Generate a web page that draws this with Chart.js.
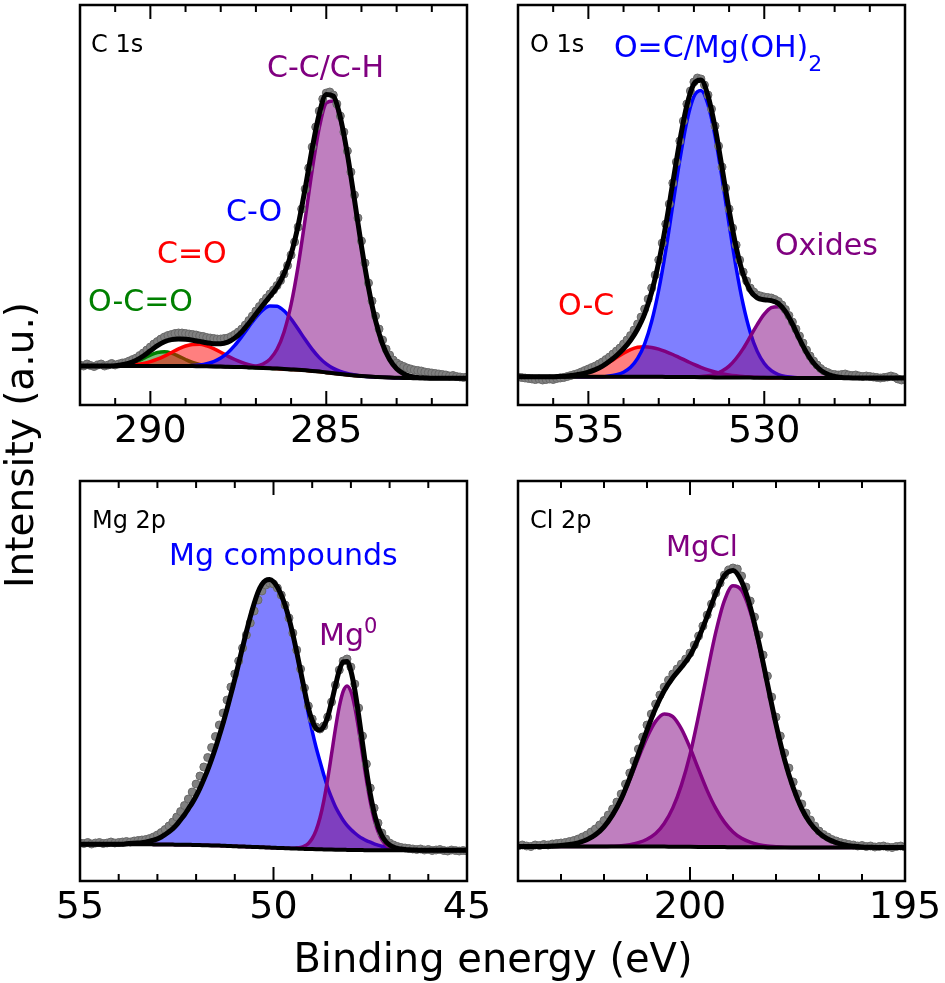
<!DOCTYPE html>
<html>
<head>
<meta charset="utf-8">
<script src="https://cdn.jsdelivr.net/npm/chart.js@4.4.0/dist/chart.umd.min.js"></script>
<style>
  html, body { margin: 0; padding: 0; background: #fff; }
  body { width: 945px; height: 983px; position: relative; overflow: hidden; font-family: 'DejaVu Sans', sans-serif; }
  canvas { position: absolute; }
  .lbl { position: absolute; white-space: nowrap; line-height: 1; font-family: 'DejaVu Sans', sans-serif; }
  .pn { font-size: 24px; color: #000; }
  .pk { font-size: 30px; }
</style>
</head>
<body>
<canvas id="c1" width="477" height="465" style="left:35px;top:0px;width:477px;height:465px"></canvas>
<canvas id="c2" width="477" height="465" style="left:473px;top:0px;width:477px;height:465px"></canvas>
<canvas id="c3" width="477" height="465" style="left:35px;top:476px;width:477px;height:465px"></canvas>
<canvas id="c4" width="477" height="465" style="left:473px;top:476px;width:477px;height:465px"></canvas>

<div class="lbl pn" style="left:91px;top:32px">C 1s</div>
<div class="lbl pk" style="left:267px;top:51.5px;color:#800080">C-C/C-H</div>
<div class="lbl pk" style="left:226px;top:195.5px;color:#0000ff">C-O</div>
<div class="lbl pk" style="left:157px;top:237.5px;color:#ff0000">C=O</div>
<div class="lbl pk" style="left:88px;top:285.5px;color:#008000">O-C=O</div>

<div class="lbl pn" style="left:530px;top:32px">O 1s</div>
<div class="lbl pk" style="left:614px;top:31.5px;color:#0000ff">O=C/Mg(OH)<span style="font-size:22px;position:relative;top:14px">2</span></div>
<div class="lbl pk" style="left:775px;top:229.5px;color:#800080">Oxides</div>
<div class="lbl pk" style="left:558px;top:289.5px;color:#ff0000">O-C</div>

<div class="lbl pn" style="left:92px;top:508px">Mg 2p</div>
<div class="lbl pk" style="left:169px;top:539.5px;color:#0000ff">Mg compounds</div>
<div class="lbl pk" style="left:319px;top:619.5px;color:#800080">Mg<span style="font-size:21px;position:relative;top:-12px">0</span></div>

<div class="lbl pn" style="left:530px;top:508px">Cl 2p</div>
<div class="lbl" style="left:666px;top:532px;font-size:29px;color:#800080">MgCl</div>

<div class="lbl" style="left:193px;top:938px;width:600px;text-align:center;font-size:40px">Binding energy (eV)</div>
<div class="lbl" style="left:-230px;top:425px;width:500px;height:40px;line-height:40px;text-align:center;font-size:39px;transform:rotate(-90deg)">Intensity (a.u.)</div>

<script>
// ---------------- C 1s ----------------
const c1sEnergy = [
292.0,291.9,291.8,291.7,291.6,291.5,291.4,291.3,291.2,291.1,
291.0,290.9,290.8,290.7,290.6,290.5,290.4,290.3,290.2,290.1,
290.0,289.9,289.8,289.7,289.6,289.5,289.4,289.3,289.2,289.1,
289.0,288.9,288.8,288.7,288.6,288.5,288.4,288.3,288.2,288.1,
288.0,287.9,287.8,287.7,287.6,287.5,287.4,287.3,287.2,287.1,
287.0,286.9,286.8,286.7,286.6,286.5,286.4,286.3,286.2,286.1,
286.0,285.9,285.8,285.7,285.6,285.5,285.4,285.3,285.2,285.1,
285.0,284.9,284.8,284.7,284.6,284.5,284.4,284.3,284.2,284.1,
284.0,283.9,283.8,283.7,283.6,283.5,283.4,283.3,283.2,283.1,
283.0,282.9,282.8,282.7,282.6,282.5,282.4,282.3,282.2,282.1,
282.0,281.9,281.8,281.7,281.6,281.5,281.4,281.3,281.2,281.1,
281.0];
const c1sCounts = [
40,39,41,39.5,38.5,40,41,39,40,41.5,
40,41,42,42.5,44,45.5,47,49.5,52,55,
58,61,63.5,66,68,69.5,70.5,71.5,72,72,
71.5,71,70.5,70,69,68.5,67.5,67,66.5,66,
66,66.5,67,68.5,70.5,73,76,80,84.5,89,
94,98.5,103,107,111,115,119.5,124.5,131,139.5,
150,163,178,196,216,237,258,278,294,306,
312,313,310,301,289,273,254,233,210,187,
164,142,122,104,89,76,65,56,50,45,
42,40,38.5,37,36,35,34.5,34,33,32.5,
32,31.5,31,30.5,30,29,29.5,28.5,28,27.5,
28];
// fit curves on every second energy (0.2 eV)
const c1sBackground = [
39,39,39,39,39,39,39,39,39,39,
39,39,39,39,39,39,38.9,38.8,38.7,38.6,
38.5,38.3,38.1,37.9,37.6,37.3,37.0,36.7,36.4,36.0,
35.6,35.2,34.7,34.1,33.4,32.6,31.8,31.0,30.3,29.6,
29.0,28.5,28.1,27.7,27.4,27.2,27.0,26.9,26.8,26.8,
26.8,26.8,26.8,26.8,26.8,26.8];
const c1sOCO = [
0,0,0,0,0,0.3,0.9,2.2,4.4,7.5,
10.9,13.5,14.3,12.9,9.9,6.5,3.6,1.7,0.7,0.2,
0,0,0,0,0,0,0,0,0,0,
0,0,0,0,0,0,0,0,0,0,
0,0,0,0,0,0,0,0,0,0,
0,0,0,0,0,0];
const c1sCdO = [
0,0,0,0,0,0,0.3,0.7,1.4,2.5,
4.3,6.8,9.9,13.5,17.1,20.0,21.7,21.9,20.4,17.7,
14.3,10.6,7.4,4.7,2.8,1.6,0.8,0.4,0,0,
0,0,0,0,0,0,0,0,0,0,
0,0,0,0,0,0,0,0,0,0,
0,0,0,0,0,0];
const c1sCO = [
0,0,0,0,0,0,0,0,0,0,
0,0,0,0,0,0.2,0.6,1.2,2.5,4.8,
8.5,14.0,21.5,30.7,40.7,50.4,58.2,62.4,62.4,58.2,
50.4,40.7,30.7,21.5,14.0,8.5,4.8,2.5,1.2,0.6,
0,0,0,0,0,0,0,0,0,0,
0,0,0,0,0,0];
const c1sCC = [
0,0,0,0,0,0,0,0,0,0,
0,0,0,0,0,0,0,0,0,0,
0,0,0,0,0.6,1.6,4.0,9.2,19.3,37.1,
64.9,103.7,151.1,200.9,243.6,269.5,272.3,254.0,219.4,175.4,
129.8,89.0,56.4,33.1,18.0,9.1,4.2,1.8,0.7,0.3,
0,0,0,0,0,0];
const c1sTicks = [290, 285];
const c1sMinorTicks = [291, 289, 288, 287, 286, 284, 283, 282];

// ---------------- O 1s ----------------
const o1sEnergy = [
537.0,536.9,536.8,536.7,536.6,536.5,536.4,536.3,536.2,536.1,
536.0,535.9,535.8,535.7,535.6,535.5,535.4,535.3,535.2,535.1,
535.0,534.9,534.8,534.7,534.6,534.5,534.4,534.3,534.2,534.1,
534.0,533.9,533.8,533.7,533.6,533.5,533.4,533.3,533.2,533.1,
533.0,532.9,532.8,532.7,532.6,532.5,532.4,532.3,532.2,532.1,
532.0,531.9,531.8,531.7,531.6,531.5,531.4,531.3,531.2,531.1,
531.0,530.9,530.8,530.7,530.6,530.5,530.4,530.3,530.2,530.1,
530.0,529.9,529.8,529.7,529.6,529.5,529.4,529.3,529.2,529.1,
529.0,528.9,528.8,528.7,528.6,528.5,528.4,528.3,528.2,528.1,
528.0,527.9,527.8,527.7,527.6,527.5,527.4,527.3,527.2,527.1,
527.0,526.9,526.8,526.7,526.6,526.5,526.4,526.3,526.2,526.1,
526.0];
const o1sCounts = [
28,27.5,27,26.5,26,25.5,26,25,25.5,26,
25.5,26.5,27,27.5,28.5,29.5,30.5,31.5,33,34.5,
36,37.5,39,41,43,45.5,48,51,54,57,
61,65,69.5,75,81,88,96,106,117,130,
145,162,181,201,222,243,264,284,301,314,
323,327,326,320,310,296,279,259,238,217,
196,177,160,145,133,124,117,113,110,109,
108,107.5,107,105.5,103.5,100,95.5,89.5,83,76,
69,62,55,49,44,40,36.5,34,32.5,31,
30.5,30,30.5,31,30,29.5,30,29,28.5,29,
28.5,28,27.5,27,27.5,28,29,28,26,25,
25.5];
const o1sBackground = [
28.3,28.3,28.3,28.3,28.3,28.3,28.3,28.3,28.3,28.3,
28.3,28.3,28.3,28.3,28.3,28.3,28.3,28.3,28.2,28.2,
28.2,28.1,28.1,28.0,28.0,27.9,27.8,27.7,27.6,27.6,
27.5,27.5,27.4,27.4,27.3,27.3,27.2,27.2,27.1,27.1,
27.0,27.0,27.0,27.0,27.0,27.0,27.0,27.0,27.0,27.0,
27.0,27.0,27.0,27.0,27.0,27.0];
const o1sOC = [
0,0,0,0,0,0,0.4,0.8,1.5,2.7,
4.5,7.1,10.5,14.6,19.1,23.5,27.1,29.4,30.0,29.3,
27.7,25.3,22.4,19.2,15.9,12.7,9.9,7.4,5.4,3.8,
2.6,1.7,1.1,0.7,0.4,0.2,0,0,0,0,
0,0,0,0,0,0,0,0,0,0,
0,0,0,0,0,0];
const o1sOCMgOH = [
0,0,0,0,0,0,0,0,0,0,
0,0,0,0.8,2.0,4.5,9.4,18.3,33.0,55.5,
86.8,126.5,171.8,217.2,255.7,280.5,286.6,272.7,241.6,199.4,
153.3,109.8,73.2,45.4,26.3,14.2,7.1,3.3,1.4,0.6,
0,0,0,0,0,0,0,0,0,0,
0,0,0,0,0,0];
const o1sOxides = [
0,0,0,0,0,0,0,0,0,0,
0,0,0,0,0,0,0,0,0,0,
0,0,0,0,0,0,0.7,1.5,3.3,6.4,
11.4,19.0,29.0,40.9,53.1,63.5,70.1,71.1,65.1,53.3,
39.0,25.6,15.0,7.9,3.7,1.6,0.6,0.2,0,0,
0,0,0,0,0,0];
const o1sTicks = [535, 530];
const o1sMinorTicks = [536, 534, 533, 532, 531, 529, 528, 527];

// ---------------- Mg 2p ----------------
const mg2pEnergy = [
55.0,54.9,54.8,54.7,54.6,54.5,54.4,54.3,54.2,54.1,
54.0,53.9,53.8,53.7,53.6,53.5,53.4,53.3,53.2,53.1,
53.0,52.9,52.8,52.7,52.6,52.5,52.4,52.3,52.2,52.1,
52.0,51.9,51.8,51.7,51.6,51.5,51.4,51.3,51.2,51.1,
51.0,50.9,50.8,50.7,50.6,50.5,50.4,50.3,50.2,50.1,
50.0,49.9,49.8,49.7,49.6,49.5,49.4,49.3,49.2,49.1,
49.0,48.9,48.8,48.7,48.6,48.5,48.4,48.3,48.2,48.1,
48.0,47.9,47.8,47.7,47.6,47.5,47.4,47.3,47.2,47.1,
47.0,46.9,46.8,46.7,46.6,46.5,46.4,46.3,46.2,46.1,
46.0,45.9,45.8,45.7,45.6,45.5,45.4,45.3,45.2,45.1,
45.0];
const mg2pCounts = [
38,37.5,38.5,37,38,38.5,37.5,38,39,38,
38.5,39,39.5,39,40,40.5,41,41.5,42.5,44,
46,48.5,51.5,55,59,64,69.5,75.5,82,89,
97,105,114,123.5,133.5,144.5,156,168,181,194,
207,220,233,246,258,270,281,290,296,298,
297,293,286,276,263,248,231,212,193,175,
162,154,152,155,164,179,196,211,220,222,
214,197,173,145,117,93,73,58,48,42,
38,36,34.5,33.5,33,32.5,32,31.5,32,31,
31.5,30.5,31,31.5,30.5,30,31,30.5,30,30.5,
30];
// fit curves on every energy (0.1 eV)
const mg2pBackground = [
36.8,36.8,36.8,36.8,36.8,36.8,36.8,36.8,36.8,36.8,
36.8,36.8,36.8,36.8,36.8,36.8,36.7,36.7,36.7,36.6,
36.6,36.5,36.5,36.4,36.4,36.3,36.3,36.2,36.2,36.1,
36.0,35.9,35.8,35.7,35.6,35.5,35.4,35.2,35.1,34.9,
34.8,34.6,34.5,34.3,34.2,34.0,33.9,33.7,33.6,33.4,
33.3,33.1,33.0,32.8,32.7,32.5,32.4,32.2,32.1,32.0,
31.9,31.8,31.7,31.6,31.5,31.4,31.3,31.2,31.2,31.1,
31.0,31.0,30.9,30.9,30.8,30.8,30.7,30.7,30.7,30.7,
30.7,30.7,30.7,30.7,30.7,30.7,30.7,30.7,30.7,30.7,
30.7,30.7,30.7,30.7,30.7,30.7,30.7,30.7,30.7,30.7,
30.7];
const mg2pCompounds = [
0,0,0,0,0,0,0,0,0,0,
0,0,0.5,0.7,1.0,1.2,1.5,2.2,3.0,4.2,
5.5,7.5,10,12.8,16,20,25,30,36,42,
49,57,66,75.5,86,97.5,110,123,137,152,
167,183,199,215,230,243.5,255,263,267,268,
266,261,253,243,230,214,196,176.5,156,135.5,
118,102,88,74.5,62,52,43,36,29.5,24.5,
20.5,17,14,11.5,9.5,8,6.5,5.2,4.0,3.2,
2.5,2.0,1.5,1.1,0.8,0.5,0.3,0.2,0,0,
0,0,0,0,0,0,0,0,0,0,
0];
const mg2pMetal = [
0,0,0,0,0,0,0,0,0,0,
0,0,0,0,0,0,0,0,0,0,
0,0,0,0,0,0,0,0,0,0,
0,0,0,0,0,0,0,0,0,0,
0,0,0,0,0,0,0,0,0,0,
0,0,0,0,0,0.2,0.5,1.3,2.8,5.6,
10.6,18.9,31.3,48.6,70.5,95.5,121.0,143.2,158.5,164,
158.5,143.2,121.0,95.5,70.5,48.6,31.3,18.9,10.6,5.6,
2.8,1.3,0.5,0.2,0,0,0,0,0,0,
0,0,0,0,0,0,0,0,0,0,
0];
const mg2pTicks = [55, 50, 45];
const mg2pMinorTicks = [54, 53, 52, 51, 49, 48, 47, 46];

// ---------------- Cl 2p ----------------
const cl2pEnergy = [
204.0,203.9,203.8,203.7,203.6,203.5,203.4,203.3,203.2,203.1,
203.0,202.9,202.8,202.7,202.6,202.5,202.4,202.3,202.2,202.1,
202.0,201.9,201.8,201.7,201.6,201.5,201.4,201.3,201.2,201.1,
201.0,200.9,200.8,200.7,200.6,200.5,200.4,200.3,200.2,200.1,
200.0,199.9,199.8,199.7,199.6,199.5,199.4,199.3,199.2,199.1,
199.0,198.9,198.8,198.7,198.6,198.5,198.4,198.3,198.2,198.1,
198.0,197.9,197.8,197.7,197.6,197.5,197.4,197.3,197.2,197.1,
197.0,196.9,196.8,196.7,196.6,196.5,196.4,196.3,196.2,196.1,
196.0,195.9,195.8,195.7,195.6,195.5,195.4,195.3,195.2,195.1,
195.0];
const cl2pCounts = [
35,36,35,34.5,36,35.5,36.5,36,37,37.5,
38,38.5,39.5,40.5,42,44,46,49,52,56,
60.5,66,72,79,87,97,108,120,132,144,
156,167,177,186,194,201,207,212,217,222,
228,236,245,255,266,277,288,298,306,311,
313,312,305,294,280,264,246,226,205,184,
164,145,128,113,99,87,77,68,61,55,
50,46.5,44,41.5,40,38.5,37.5,36.5,36,35,
35.5,34.5,35,34,34.5,35,34,33.5,34.5,35,
34];
const cl2pBackground = [
34.5,34.5,34.5,34.5,34.5,34.5,34.5,34.5,34.5,34.5,
34.5,34.5,34.5,34.5,34.5,34.5,34.4,34.4,34.3,34.3,
34.2,34.1,34.0,34.0,33.9,33.8,33.8,33.7,33.7,33.6,
33.6,33.5,33.5,33.5,33.5,33.5,33.5,33.5,33.5,33.5,
33.5,33.5,33.5,33.5,33.5,33.5];
const cl2pHalf = [
0,0,0,0.1,0.4,0.9,2.0,3.7,6.7,11.7,
19.7,31.3,46.8,66.8,88.4,109.1,125.2,132.7,130.1,117.8,
99.1,77.5,56.4,38.6,25.0,15.3,8.9,5.1,2.7,1.3,
0.7,0.3,0.1,0,0,0,0,0,0,0,
0,0,0,0,0,0];
const cl2pThreeHalf = [
0,0,0,0,0,0,0,0,0,0,
0,0.3,0.8,1.9,3.9,7.3,13.1,23.1,38.8,61.6,
92.2,131.5,174.2,214.8,246.5,261.5,256.9,235.6,202.4,162.5,
122.4,87.4,59.7,38.7,24.1,14.7,8.5,4.9,2.6,1.3,
0.6,0.3,0.1,0,0,0];
const cl2pTicks = [200, 195];
const cl2pMinorTicks = [203, 202, 201, 199, 198, 197, 196];

// ---------------- styles ----------------
const COL = { purple: '#800080', blue: '#0000ff', red: '#ff0000', green: '#008000' };
const FILL = {
  purple: 'rgba(128,0,128,0.5)', blue: 'rgba(0,0,255,0.5)',
  red: 'rgba(255,0,0,0.5)', green: 'rgba(0,128,0,0.5)'
};

const panels = [
  { id: 'c1', energy: c1sEnergy, counts: c1sCounts, stride: 2, background: c1sBackground,
    min: 281, max: 292, major: c1sTicks, minor: c1sMinorTicks,
    components: [
      { values: c1sOCO, c: 'green' }, { values: c1sCdO, c: 'red' },
      { values: c1sCO, c: 'blue' }, { values: c1sCC, c: 'purple' } ] },
  { id: 'c2', energy: o1sEnergy, counts: o1sCounts, stride: 2, background: o1sBackground,
    min: 526, max: 537, major: o1sTicks, minor: o1sMinorTicks,
    components: [
      { values: o1sOC, c: 'red' }, { values: o1sOCMgOH, c: 'blue' }, { values: o1sOxides, c: 'purple' } ] },
  { id: 'c3', energy: mg2pEnergy, counts: mg2pCounts, stride: 1, background: mg2pBackground,
    min: 45, max: 55, major: mg2pTicks, minor: mg2pMinorTicks,
    components: [ { values: mg2pCompounds, c: 'blue' }, { values: mg2pMetal, c: 'purple' } ] },
  { id: 'c4', energy: cl2pEnergy, counts: cl2pCounts, stride: 2, background: cl2pBackground,
    min: 195, max: 204, major: cl2pTicks, minor: cl2pMinorTicks,
    components: [ { values: cl2pHalf, c: 'purple' }, { values: cl2pThreeHalf, c: 'purple' } ] }
];

const framePlugin = {
  id: 'frameTicks',
  afterDatasetsDraw(chart, args, opts) {
    const { ctx, chartArea: a } = chart;
    const x = chart.scales.x;
    ctx.save();
    ctx.strokeStyle = '#000';
    ctx.lineWidth = 2;
    const tick = (v, len) => {
      const px = x.getPixelForValue(v);
      ctx.beginPath();
      ctx.moveTo(px, a.bottom); ctx.lineTo(px, a.bottom - len);
      ctx.moveTo(px, a.top); ctx.lineTo(px, a.top + len);
      ctx.stroke();
    };
    (opts.minor || []).forEach(v => tick(v, 7));
    (opts.major || []).forEach(v => tick(v, 14));
    ctx.lineWidth = 2.5;
    ctx.strokeRect(a.left, a.top, a.right - a.left, a.bottom - a.top);
    ctx.restore();
  }
};

panels.forEach(p => {
  const fitE = p.energy.filter((_, i) => i % p.stride === 0);
  const pts = ys => ys.map((y, i) => ({ x: fitE[i], y }));
  const envelope = p.background.map((b, i) => p.components.reduce((s, c) => s + c.values[i], b));
  const datasets = [];
  datasets.push({
    label: 'data', data: p.energy.map((e, i) => ({ x: e, y: p.counts[i] })),
    showLine: false, pointRadius: 4, pointBackgroundColor: '#808080',
    pointBorderColor: '#686868', pointBorderWidth: 1, order: 3, clip: 0
  });
  datasets.push({
    label: 'background', data: pts(p.background), borderColor: '#000', borderWidth: 4,
    pointRadius: 0, fill: false, order: 2, cubicInterpolationMode: 'monotone', clip: 0
  });
  p.components.forEach((c, k) => {
    datasets.push({
      label: 'component' + k, data: pts(p.background.map((b, i) => b + c.values[i])),
      borderColor: COL[c.c], backgroundColor: FILL[c.c], borderWidth: 3.5,
      pointRadius: 0, fill: 1, order: 20 - k, cubicInterpolationMode: 'monotone', clip: 0
    });
  });
  datasets.push({
    label: 'envelope', data: pts(envelope), borderColor: '#000', borderWidth: 5,
    pointRadius: 0, fill: false, order: 1, cubicInterpolationMode: 'monotone', clip: 0
  });

  new Chart(document.getElementById(p.id), {
    type: 'line',
    data: { datasets },
    plugins: [framePlugin],
    options: {
      responsive: false, animation: false, events: [],
      layout: { padding: { left: 45, right: 45, top: 5, bottom: 0 } },
      plugins: {
        legend: { display: false }, tooltip: { enabled: false }, title: { display: false },
        filler: { propagate: false },
        frameTicks: { major: p.major, minor: p.minor }
      },
      scales: {
        x: {
          type: 'linear', min: p.min, max: p.max, reverse: true,
          grid: { display: false, drawTicks: false }, border: { display: false },
          afterBuildTicks: s => { s.ticks = p.major.map(v => ({ value: v })); },
          afterFit: s => { s.height = 60; },
          ticks: { autoSkip: false, maxRotation: 0, minRotation: 0, padding: 4, color: '#000',
                   font: { family: 'DejaVu Sans', size: 38 } }
        },
        y: { type: 'linear', min: 0, max: 400, display: false }
      }
    }
  });
});
</script>
</body>
</html>
